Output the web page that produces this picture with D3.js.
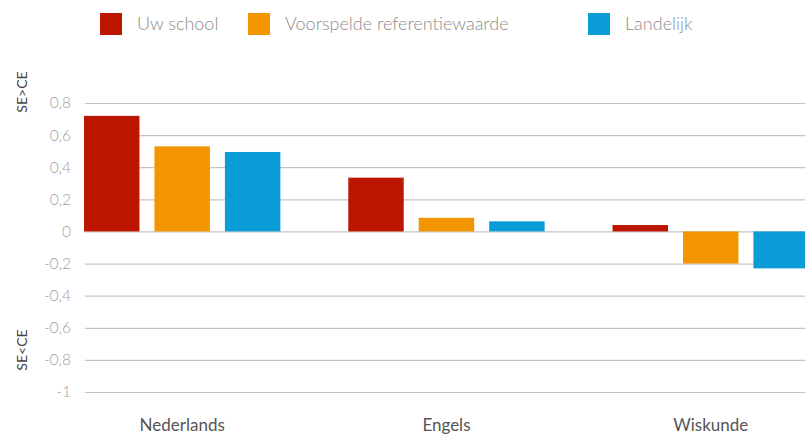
<!DOCTYPE html>
<html><head><meta charset="utf-8">
<script src="https://cdn.jsdelivr.net/npm/d3@7"></script>
<style>body{margin:0;background:#fff;overflow:hidden}svg{display:block}</style>
</head><body><svg id="c" width="805" height="436"></svg>
<script>
const categories = ["Nederlands", "Engels", "Wiskunde"];
const seriesNames = ["Uw school", "Voorspelde referentiewaarde", "Landelijk"];
const uwSchool = [0.72, 0.335, 0.04];
const voorspeld = [0.53, 0.085, -0.2];
const landelijk = [0.495, 0.063, -0.23];
const yTicks = [0.8, 0.6, 0.4, 0.2, 0, -0.2, -0.4, -0.6, -0.8, -1];
const colors = ["#BD1600", "#F29500", "#0A9CD7"];

const series = [uwSchool, voorspeld, landelijk];
const svg = d3.select("#c");
const font = "Lato, 'Open Sans', sans-serif";

const y = d3.scaleLinear().domain([-1, 0.8]).range([392, 103]);
const x0 = d3.scaleBand().domain(categories).range([84, 808.9]).paddingInner(0.257).paddingOuter(0);
const x1 = d3.scaleBand().domain(d3.range(3)).range([0, x0.bandwidth()]).paddingInner(0.213).paddingOuter(0);

const yAxis = d3.axisLeft(y).tickValues(yTicks)
  .tickSize(-(805 - 85)).tickPadding(14)
  .tickFormat(d => d3.format(".1f")(d).replace(".", ",").replace(/,0$/, "").replace("−", "-"));
const gy = svg.append("g").attr("transform", "translate(85,0)").call(yAxis);
gy.select(".domain").remove();
gy.selectAll(".tick line").attr("stroke", "#c4c4c4").attr("stroke-width", 1.2);
gy.selectAll(".tick text").attr("fill", "#a0a0a0").style("font-family", font)
  .style("font-size", "15.5px").style("font-weight", 300);

const g = svg.append("g");
categories.forEach((c, i) => {
  series.forEach((s, j) => {
    const v = s[i];
    g.append("rect")
      .attr("x", x0(c) + x1(j))
      .attr("width", x1.bandwidth())
      .attr("y", y(Math.max(0, v)))
      .attr("height", Math.abs(y(v) - y(0)))
      .attr("fill", colors[j]);
  });
});

svg.append("g").selectAll("text").data(categories).join("text")
  .attr("x", d => x0(d) + x0.bandwidth() / 2)
  .attr("y", 431)
  .attr("text-anchor", "middle")
  .attr("fill", "#555")
  .style("font-family", font).style("font-size", "17px")
  .text(d => d);

[["SE>CE", 92], ["SE<CE", 350]].forEach(([t, cy]) => {
  svg.append("text")
    .attr("transform", `translate(27,${cy}) rotate(-90)`)
    .attr("text-anchor", "middle")
    .attr("fill", "#444")
    .style("font-family", font).style("font-size", "14px").style("font-weight", 400)
    .text(t);
});

const legendX = [100, 248, 588];
const lg = svg.append("g");
seriesNames.forEach((n, j) => {
  lg.append("rect").attr("x", legendX[j]).attr("y", 13).attr("width", 22).attr("height", 22).attr("fill", colors[j]);
  lg.append("text").attr("x", legendX[j] + 37).attr("y", 30)
    .attr("fill", "#8c8c8c").style("font-family", font).style("font-size", "18px").style("font-weight", 300)
    .text(n);
});
</script></body></html>
